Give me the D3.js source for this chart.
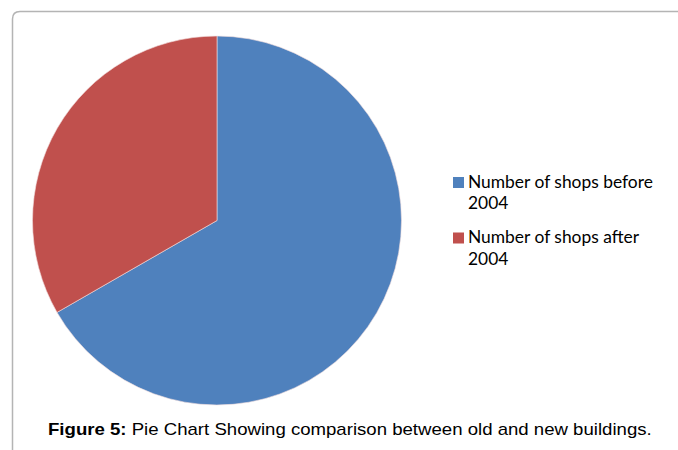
<!DOCTYPE html>
<html>
<head>
<meta charset="utf-8">
<script src="https://cdn.jsdelivr.net/npm/d3@7"></script>
<style>
  html, body { margin: 0; padding: 0; background: #fff; }
  svg { display: block; }
</style>
</head>
<body>
<svg id="chart" width="678" height="450"></svg>
<script>
// Pie data: share of shops before and after 2004
const categories = ["Number of shops before 2004", "Number of shops after 2004"];
const legendLines = [["Number of shops before", "2004"], ["Number of shops after", "2004"]];
const values = [66.7, 33.3];
const colors = ["#4F81BD", "#C0504D"];
const caption = { bold: "Figure 5:", rest: " Pie Chart Showing comparison between old and new buildings." };

const svg = d3.select("#chart");

// Chart frame with rounded top-left corner, running off the right and bottom edges
svg.append("path")
  .attr("d", "M12.5,452 L12.5,19 Q12.5,11.5 20,11.5 L680,11.5")
  .attr("fill", "none")
  .attr("stroke", "#b4b4b4")
  .attr("stroke-width", 1.5);

// Pie
const cx = 217, cy = 220.5, r = 184.5;
const pie = d3.pie().sort(null).value(d => d)(values);
const arc = d3.arc().innerRadius(0).outerRadius(r);
const colorScale = d3.scaleOrdinal().domain(categories).range(colors);

svg.append("g")
  .attr("transform", `translate(${cx},${cy})`)
  .selectAll("path")
  .data(pie)
  .join("path")
  .attr("d", arc)
  .attr("fill", (d, i) => colorScale(categories[i]))
  .attr("stroke", "#f2dede")
  .attr("stroke-width", 0.6);

// Legend
const legend = svg.append("g").attr("font-family", "Lato, 'Open Sans', sans-serif")
  .attr("font-size", 17.4).attr("fill", "#000");
const entryY = [187.5, 243];
legendLines.forEach((lines, i) => {
  const g = legend.append("g");
  g.append("rect")
    .attr("x", 453).attr("y", entryY[i] - 10.5)
    .attr("width", 11).attr("height", 11)
    .attr("fill", colorScale(categories[i]));
  lines.forEach((t, j) => {
    g.append("text")
      .attr("x", 468).attr("y", entryY[i] + j * 21.5)
      .text(t);
  });
});

// Caption, stretched horizontally to span its line
const capX = 48, capW = 604;
const cap = svg.append("text")
  .attr("x", 0).attr("y", 0)
  .attr("font-family", "'Liberation Sans', Arial, sans-serif")
  .attr("font-size", 17)
  .attr("fill", "#000");
cap.append("tspan").attr("font-weight", "bold").text(caption.bold);
cap.append("tspan").text(caption.rest);
const natural = cap.node().getComputedTextLength();
cap.attr("transform", `translate(${capX},435) scale(${capW / natural},1)`);
</script>
</body>
</html>
